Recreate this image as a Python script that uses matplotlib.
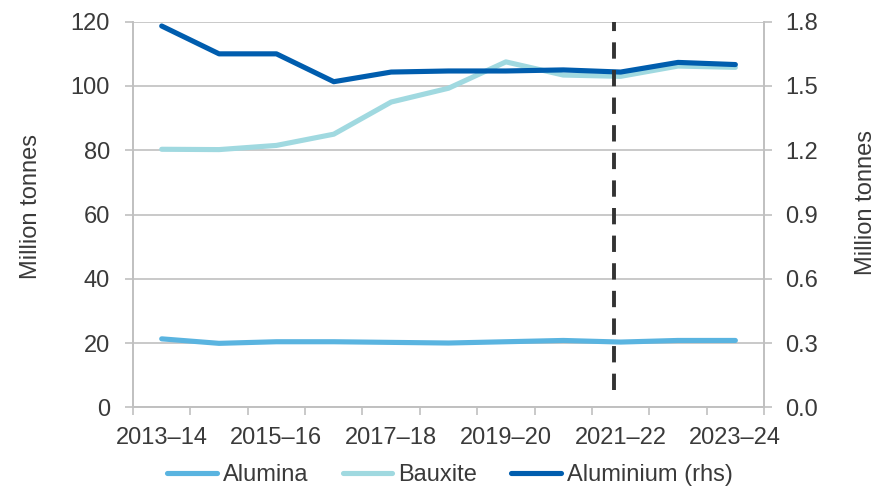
import matplotlib
matplotlib.use("Agg")
import matplotlib.pyplot as plt
from matplotlib.lines import Line2D

plt.rcParams["font.family"] = ["Liberation Sans", "DejaVu Sans"]

years = ["2013–14", "2014–15", "2015–16", "2016–17", "2017–18", "2018–19",
         "2019–20", "2020–21", "2021–22", "2022–23", "2023–24"]
alumina = [21.3, 19.9, 20.4, 20.4, 20.2, 20.0, 20.4, 20.8, 20.3, 20.8, 20.8]
bauxite = [80.3, 80.2, 81.5, 85.0, 95.0, 99.3, 107.5, 103.4, 103.0, 106.2, 105.8]
aluminium = [1.78, 1.65, 1.65, 1.52, 1.565, 1.57, 1.57, 1.575, 1.565, 1.61, 1.60]
forecast_start = 7.89

c_alumina = "#5AB4E0"
c_bauxite = "#A0D9E0"
c_aluminium = "#005DAE"
c_grid = "#C0C0C0"
c_text = "#3A3A3A"
fs = 17

fig = plt.figure(figsize=(8.88, 4.88), dpi=100)
ax = fig.add_axes([0.1498, 0.1654, 0.7106, 0.7901])
ax2 = ax.twinx()

x = list(range(len(years)))
lw = 3.7
ax.plot(x, alumina, color=c_alumina, lw=lw, solid_capstyle="round", solid_joinstyle="round")
ax.plot(x, bauxite, color=c_bauxite, lw=lw, solid_capstyle="round", solid_joinstyle="round")
ax2.plot(x, aluminium, color=c_aluminium, lw=lw, solid_capstyle="round", solid_joinstyle="round")

# forecast marker
ax2.plot([forecast_start, forecast_start], [0.08, 1.8], color="#333333", lw=2.8,
         dashes=(4.2, 2.9), zorder=10)

ax.set_xlim(-0.5, len(years) - 0.5)
ax.set_ylim(0, 120)
ax2.set_ylim(0, 1.8)
ax.set_yticks(range(0, 121, 20))
rhs_ticks = [0.0, 0.3, 0.6, 0.9, 1.2, 1.5, 1.8]
ax2.set_yticks(rhs_ticks)
ax2.set_yticklabels([f"{v:.1f}" for v in rhs_ticks])

# category labels at centres, tick marks at category boundaries
ax.set_xticks(x[::2])
ax.set_xticklabels(years[::2])
ax.set_xticks([i - 0.5 for i in range(len(years) + 1)], minor=True)
tl = 5.5
ax.tick_params(axis="x", which="major", length=0, pad=14, labelsize=fs, labelcolor=c_text)
ax.tick_params(axis="x", which="minor", length=tl, width=1.2, color=c_grid)
ax.tick_params(axis="y", length=tl, width=1.2, color=c_grid, pad=11, labelsize=fs, labelcolor=c_text)
ax2.tick_params(axis="y", length=tl, width=1.2, color=c_grid, pad=9.7, labelsize=fs, labelcolor=c_text)

ax.grid(axis="y", color=c_grid, lw=1.2)
ax.set_axisbelow(True)
for a in (ax, ax2):
    for side in ("left", "right", "bottom"):
        a.spines[side].set_color(c_grid)
        a.spines[side].set_linewidth(1.2)
    a.spines["top"].set_visible(False)

ax.set_ylabel("Million tonnes", fontsize=fs, color=c_text)
ax2.set_ylabel("Million tonnes", fontsize=fs, color=c_text)
ax.yaxis.set_label_coords(-0.1616, 0.52)
ax2.yaxis.set_label_coords(1.1616, 0.53)
ax.yaxis.label.set_verticalalignment("center")
ax2.yaxis.label.set_verticalalignment("center")

handles = [Line2D([], [], color=c_alumina, lw=lw, solid_capstyle="round"),
           Line2D([], [], color=c_bauxite, lw=lw, solid_capstyle="round"),
           Line2D([], [], color=c_aluminium, lw=lw, solid_capstyle="round")]
labels = ["Alumina", "Bauxite", "Aluminium (rhs)"]
fig.legend(handles, labels, loc="center", bbox_to_anchor=(450 / 888, 1 - 475 / 488),
           ncol=3, frameon=False, fontsize=fs, handlelength=2.1, handletextpad=0.25,
           columnspacing=1.45, labelcolor=c_text, borderaxespad=0, borderpad=0)

fig.savefig("out.png", dpi=100)
